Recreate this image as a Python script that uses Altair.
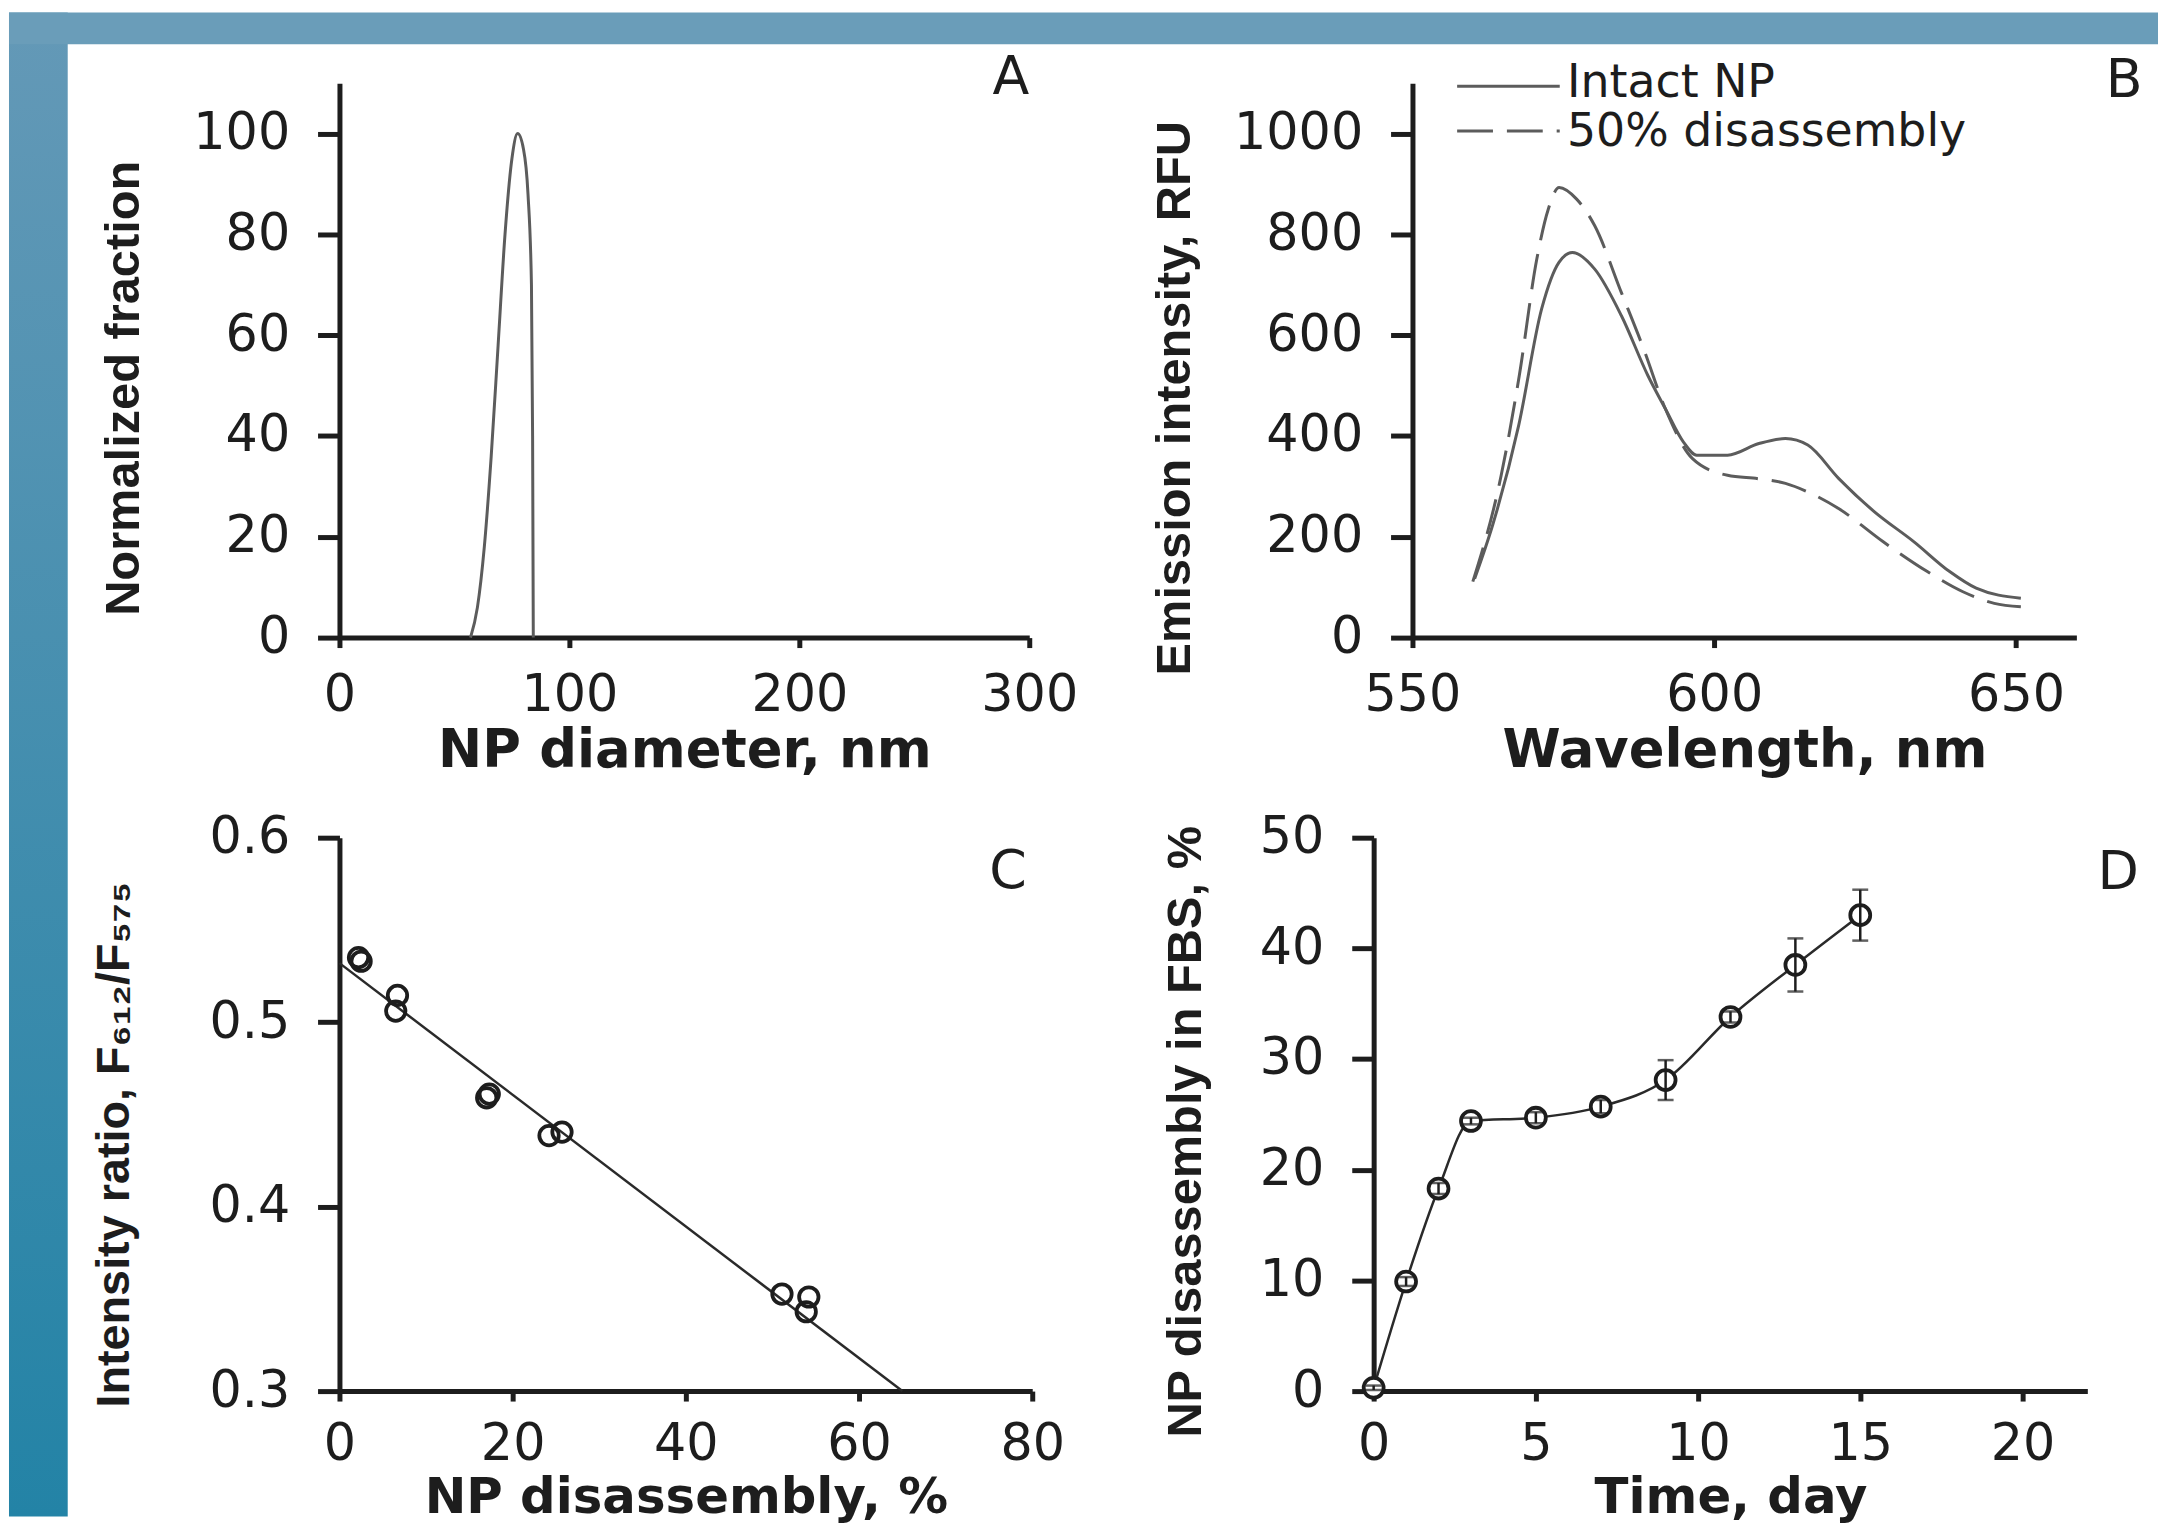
import altair as alt
import pandas as pd

# ---------------- data ----------------
# Panel A: size distribution
diam_nm = [57, 60, 63, 66, 69, 72, 75, 77.5, 80, 82, 83.5, 84, 84.3]
norm_frac = [0, 6, 18, 36, 58, 80, 95, 100, 97, 88, 70, 40, 0]

# Panel B: emission spectra
wl_intact = [560.3, 563.3, 567.6, 571.4, 574.3, 576.5, 580.2, 584.6, 589.0, 591.9, 594.9,
             597.1, 602.2, 607.4, 611.8, 615.5, 620.6, 626.5, 633.1, 639.0, 643.4, 650.8]
em_intact = [117, 224, 421, 652, 745, 764, 731, 639, 520, 454, 388,
             362, 362, 385, 395, 382, 316, 250, 190, 131, 98, 78]
wl_dis = [560.0, 564.7, 567.7, 570.6, 572.5, 574.3, 577.2, 580.2, 584.6, 588.3, 591.9,
          596.4, 602.2, 607.4, 611.8, 615.5, 620.6, 628.0, 635.3, 641.2, 646.4, 650.8]
em_dis = [111, 322, 520, 751, 850, 893, 870, 817, 685, 573, 454,
          355, 322, 315, 306, 289, 256, 190, 131, 91, 68, 61]
legend_labels = ["Intact NP", "50% disassembly"]

# Panel C: calibration
dis_pct = [2.2, 2.5, 6.7, 6.5, 17.0, 17.3, 24.2, 25.7, 51.1, 54.2, 53.9]
ratio = [0.535, 0.533, 0.5145, 0.506, 0.459, 0.461, 0.4385, 0.4404, 0.3526, 0.351, 0.343]
fit_x = [0, 65]
fit_y = [0.532, 0.300]

# Panel D: disassembly in FBS
days = [0, 1, 2, 3, 5, 7, 9, 11, 13, 15]
dis_fbs = [0.3, 9.9, 18.3, 24.4, 24.7, 25.7, 28.1, 33.8, 38.5, 43.0]
dis_err = [0.2, 0.4, 0.5, 0.3, 0.5, 0.6, 1.8, 0.5, 2.4, 2.3]

panel_letters = ["A", "B", "C", "D"]

# ---------------- styling ----------------
INK = "#1d1d1d"
CURVE = "#5c5c5c"
FONT = "DejaVu Sans"
YFONT = "Liberation Sans"
D_TITLE = "NP disassembly in FBS, %"


def xax(title, values, fmt="d", ty=129, pad=23, size=53):
    return alt.Axis(title=title, values=values, format=fmt, labelPadding=pad,
                    titleY=ty, titleBaseline="alphabetic", titleFontSize=size)


def yax(title, values, tx, ty, fmt="d", offset=0, size=49):
    return alt.Axis(title=title, values=values, format=fmt, offset=offset,
                    titleX=tx, titleY=ty, titleBaseline="alphabetic", titleFontSize=size)


def letter(ch, xv, yv, xf, yf):
    df = pd.DataFrame({xf: [xv], yf: [yv], "lab": [ch]})
    return alt.Chart(df).mark_text(font=FONT, fontSize=54, color=INK, align="center",
                                   baseline="alphabetic").encode(
        x=f"{xf}:Q", y=f"{yf}:Q", text="lab:N")


# ---------------- panel A ----------------
dfA = pd.DataFrame({"dia": diam_nm, "frac": norm_frac})
A = alt.layer(
    alt.Chart(dfA).mark_line(color=CURVE, strokeWidth=3, interpolate="monotone").encode(
        x=alt.X("dia:Q", scale=alt.Scale(domain=[0, 300], nice=False, zero=False),
                axis=xax("NP diameter, nm", [0, 100, 200, 300])),
        y=alt.Y("frac:Q", scale=alt.Scale(domain=[0, 110], nice=False),
                axis=yax("Normalized fraction", [0, 20, 40, 60, 80, 100], -202, 306)),
    ),
    letter(panel_letters[0], 292, 107.9, "dia", "frac"),
).properties(width=693, height=557)

# ---------------- panel B ----------------
B_SHIFT = 39  # the B axes start a little to the right of the D axes
dfB1 = pd.DataFrame({"wl": wl_intact, "em": em_intact})
dfB2 = pd.DataFrame({"wl": wl_dis, "em": em_dis})
DASH = [36, 14]
b_solid = alt.Chart(dfB1).mark_line(color=CURVE, strokeWidth=3, interpolate="monotone").encode(
    x=alt.X("wl:Q", scale=alt.Scale(domain=[550, 660], nice=False, zero=False,
                                    range=[B_SHIFT, B_SHIFT + 667]),
            axis=xax("Wavelength, nm", [550, 600, 650])),
    y=alt.Y("em:Q", scale=alt.Scale(domain=[0, 1100], nice=False),
            axis=yax("Emission intensity, RFU", [0, 200, 400, 600, 800, 1000], -224, 316,
                     offset=-B_SHIFT)),
)
b_dash = alt.Chart(dfB2).mark_line(color=CURVE, strokeWidth=3, strokeDash=DASH,
                                   interpolate="monotone").encode(x="wl:Q", y="em:Q")
leg_solid = alt.Chart(pd.DataFrame({"wl": [557.4], "wl2": [574.4], "em": [1094]})).mark_rule(
    color=CURVE, strokeWidth=3).encode(x="wl:Q", x2="wl2:Q", y="em:Q")
leg_dash = alt.Chart(pd.DataFrame({"wl": [557.4], "wl2": [574.4], "em": [1005]})).mark_rule(
    color=CURVE, strokeWidth=3, strokeDash=DASH).encode(x="wl:Q", x2="wl2:Q", y="em:Q")
leg_text = alt.Chart(pd.DataFrame({"wl": [575.6, 575.6], "em": [1072, 975.5],
                                   "lab": legend_labels})).mark_text(
    font=FONT, fontSize=46, color=INK, align="left", baseline="alphabetic").encode(
    x="wl:Q", y="em:Q", text="lab:N")
B = alt.layer(b_solid, b_dash, leg_solid, leg_dash, leg_text,
              letter(panel_letters[1], 667.9, 1072, "wl", "em")).properties(
    width=B_SHIFT + 667, height=557)

# ---------------- panel C ----------------
dfC = pd.DataFrame({"pct": dis_pct, "ratio": ratio})
dfFit = pd.DataFrame({"pct": fit_x, "ratio": fit_y})
c_fit = alt.Chart(dfFit).mark_line(color="#2a2a2a", strokeWidth=2.5).encode(
    x=alt.X("pct:Q", scale=alt.Scale(domain=[0, 80], nice=False, zero=False),
            axis=xax("NP disassembly, %", [0, 20, 40, 60, 80], ty=122, pad=19, size=50)),
    y=alt.Y("ratio:Q", scale=alt.Scale(domain=[0.3, 0.6], nice=False, zero=False),
            axis=yax("Intensity ratio, F\u2086\u2081\u2082/F\u2085\u2087\u2085",
                     [0.3, 0.4, 0.5, 0.6], -212, 308, fmt=".1f", size=47)),
)
c_pts = alt.Chart(dfC).mark_point(shape="circle", filled=False, color=INK, strokeWidth=3.8,
                                  size=380, opacity=1).encode(x="pct:Q", y="ratio:Q")
C = alt.layer(c_fit, c_pts, letter(panel_letters[2], 77.2, 0.5725, "pct", "ratio")).properties(
    width=696, height=556)

# ---------------- panel D ----------------
dfD = pd.DataFrame({"day": days, "fbs": dis_fbs,
                    "lo": [v - e for v, e in zip(dis_fbs, dis_err)],
                    "hi": [v + e for v, e in zip(dis_fbs, dis_err)]})
d_line = alt.Chart(dfD).mark_line(color="#2a2a2a", strokeWidth=2.5, interpolate="monotone").encode(
    x=alt.X("day:Q", scale=alt.Scale(domain=[0, 22], nice=False, zero=False),
            axis=xax("Time, day", [0, 5, 10, 15, 20], ty=122, pad=19, size=50)),
    y=alt.Y("fbs:Q", scale=alt.Scale(domain=[0, 50], nice=False), title=D_TITLE,
            axis=yax(D_TITLE, [0, 10, 20, 30, 40, 50], -174, 295)),
)
d_pts = alt.Chart(dfD).mark_point(shape="circle", filled=True, fill="white", stroke=INK,
                                  strokeWidth=3.8, size=400, opacity=1, fillOpacity=1).encode(
    x="day:Q", y=alt.Y("fbs:Q", title=D_TITLE))
d_err = alt.Chart(dfD).mark_errorbar(ticks=True, size=16, thickness=2.5, color=INK).encode(
    x="day:Q", y=alt.Y("lo:Q", title=D_TITLE), y2="hi:Q")
D = alt.layer(d_line, d_pts, d_err, letter(panel_letters[3], 22.95, 45.4, "day", "fbs")).properties(
    width=717, height=556)

# ---------------- blue frame (decoration) ----------------
bg_df = pd.DataFrame({"k": [0]})
left_strip = alt.Chart(bg_df).mark_rect(
    color=alt.Gradient(gradient="linear",
                       stops=[alt.GradientStop(color="#6499b7", offset=0),
                              alt.GradientStop(color="#2383a6", offset=1)],
                       x1=0, x2=0, y1=0, y2=1)).encode(
    x=alt.value(0), x2=alt.value(59), y=alt.value(-71), y2=alt.value(1440))
top_strip = alt.Chart(bg_df).mark_rect(color="#6a9db9").encode(
    x=alt.value(0), x2=alt.value(2159), y=alt.value(-71), y2=alt.value(-39))
bg = alt.layer(left_strip, top_strip).properties(width=59, height=557)

grid = alt.concat(A, B, C, D, columns=2, spacing={"row": 201, "column": 343}, bounds="flush")

chart = alt.hconcat(bg, grid, spacing=273, bounds="flush").properties(
    padding=0, background="white"
).configure_view(stroke="transparent").configure_axis(
    domainColor=INK, domainWidth=5, tickColor=INK, tickWidth=5, grid=False,
    labelFont=FONT, labelFontSize=51, labelColor=INK, labelFlush=False, labelOverlap=False,
    titleColor=INK, titleFontWeight="bold",
).configure_axisX(
    tickSize=10, titleFont=FONT,
).configure_axisY(
    tickSize=22, labelPadding=28, titleFont=YFONT,
)

chart.save("out.html", embed_options={"renderer": "svg", "actions": False})
